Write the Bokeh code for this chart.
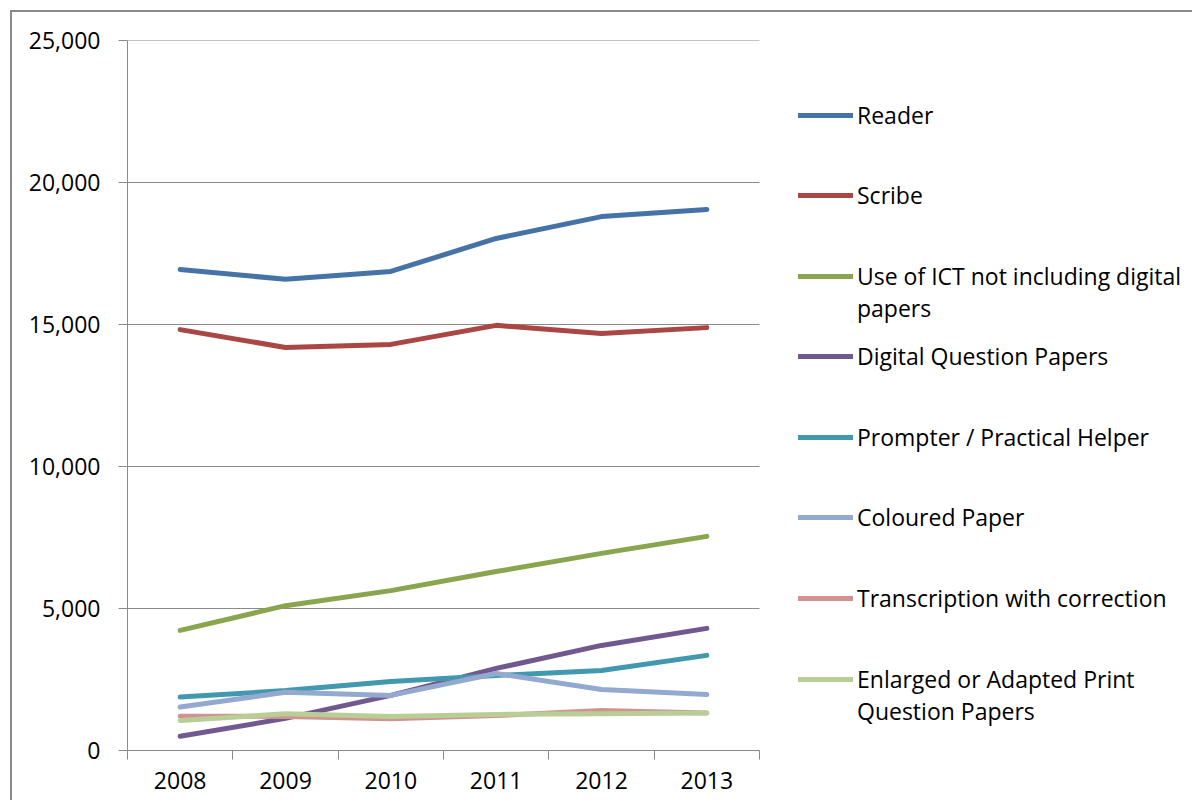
from bokeh.plotting import figure
from bokeh.models import FixedTicker, NumeralTickFormatter, Legend, LegendItem, Range1d
from bokeh.embed import file_html
from bokeh.resources import INLINE

years = [2008, 2009, 2010, 2011, 2012, 2013]
reader = [16940, 16590, 16870, 18030, 18800, 19050]
scribe = [14820, 14190, 14300, 14970, 14680, 14890]
ict = [4230, 5100, 5630, 6300, 6940, 7540]
digital = [500, 1130, 1940, 2890, 3700, 4300]
prompter = [1880, 2110, 2430, 2640, 2820, 3350]
coloured = [1530, 2050, 1940, 2710, 2150, 1970]
transcription = [1210, 1200, 1120, 1230, 1410, 1320]
enlarged = [1060, 1290, 1200, 1270, 1290, 1320]

series = [reader, scribe, ict, digital, prompter, coloured, transcription, enlarged]
labels = ["Reader", "Scribe", "Use of ICT not including digital\npapers",
          "Digital Question Papers", "Prompter / Practical Helper", "Coloured Paper",
          "Transcription with correction", "Enlarged or Adapted Print\nQuestion Papers"]
colors = ["#4572A7", "#AA4643", "#89A54E", "#71588F", "#4198AF", "#93A9CF", "#D19392", "#B9CD96"]
y_ticks = [0, 5000, 10000, 15000, 20000, 25000]
boundaries = [2007.5, 2008.5, 2009.5, 2010.5, 2011.5, 2012.5, 2013.5]

FONT = "Open Sans"
FS = "23px"
GREY = "#8a8a8a"

# layout (pixels)
PLOT_W = 632          # width of the category area
FRAME_W = 1061        # frame extended to host the legend on the right
FRAME_H = 710
x_start, x_end_cat = boundaries[0], boundaries[-1]
x_end = x_end_cat + (FRAME_W - PLOT_W) * (x_end_cat - x_start) / PLOT_W

p = figure(output_backend="svg", toolbar_location=None,
           frame_width=FRAME_W, frame_height=FRAME_H,
           min_border_left=115, min_border_top=28, min_border_right=4, min_border_bottom=50,
           x_range=Range1d(x_start, x_end), y_range=Range1d(0, 25000),
           background_fill_color="white", border_fill_color="white")
p.outline_line_color = None
p.styles = {"border-left": "2px solid " + GREY, "border-top": "2px solid " + GREY,
            "margin-left": "10px", "margin-top": "10px"}

# x axis
p.xaxis.bounds = (x_start, x_end_cat)
p.xaxis.ticker = FixedTicker(ticks=years, minor_ticks=boundaries)
p.xaxis.major_tick_out = 0
p.xaxis.major_tick_in = 0
p.xaxis.minor_tick_out = 9
p.xaxis.minor_tick_in = 0
p.xaxis.minor_tick_line_color = GREY
p.xaxis.axis_line_color = GREY
p.xaxis.major_label_standoff = 12
p.xaxis.major_label_text_font = FONT
p.xaxis.major_label_text_font_size = FS
p.xaxis.major_label_text_color = "black"
p.xgrid.visible = False

# y axis
p.yaxis.ticker = FixedTicker(ticks=y_ticks, minor_ticks=[])
p.yaxis.formatter = NumeralTickFormatter(format="0,0")
p.yaxis.major_tick_out = 9
p.yaxis.major_tick_in = 0
p.yaxis.major_tick_line_color = GREY
p.yaxis.axis_line_color = GREY
p.yaxis.major_label_standoff = 18
p.yaxis.major_label_text_font = FONT
p.yaxis.major_label_text_font_size = FS
p.yaxis.major_label_text_color = "black"
p.ygrid.visible = False

# horizontal gridlines limited to the category area
grid_y = y_ticks[1:]
p.segment(x0=[x_start] * len(grid_y), x1=[x_end_cat] * len(grid_y), y0=grid_y, y1=grid_y,
          line_color=GREY, line_width=1)

renderers = []
for vals, col in zip(series, colors):
    r = p.line(years, vals, line_color=col, line_width=5, line_cap="round", line_join="round")
    renderers.append(r)

# legend: one block per entry, glyph aligned with the first text line
LEG_X = 671
ITEM_H = 110
glyph_centers = [115, 195, 276, 356, 437, 517, 598, 679]
frame_bottom_page = 40 + FRAME_H
for r, lab, yc in zip(renderers, labels, glyph_centers):
    shown = ("\n" + lab) if "\n" in lab else lab
    leg = Legend(items=[LegendItem(label=shown, renderers=[r])],
                 location=(LEG_X, frame_bottom_page - yc - ITEM_H // 2),
                 padding=0, margin=0, spacing=0,
                 border_line_alpha=0, background_fill_alpha=0,
                 glyph_width=55, glyph_height=ITEM_H, label_height=ITEM_H,
                 label_standoff=4,
                 label_text_font=FONT, label_text_font_size=FS,
                 label_text_color="black", label_text_line_height=1.48)
    p.add_layout(leg)

open("out.html", "w").write(file_html(p, INLINE))
